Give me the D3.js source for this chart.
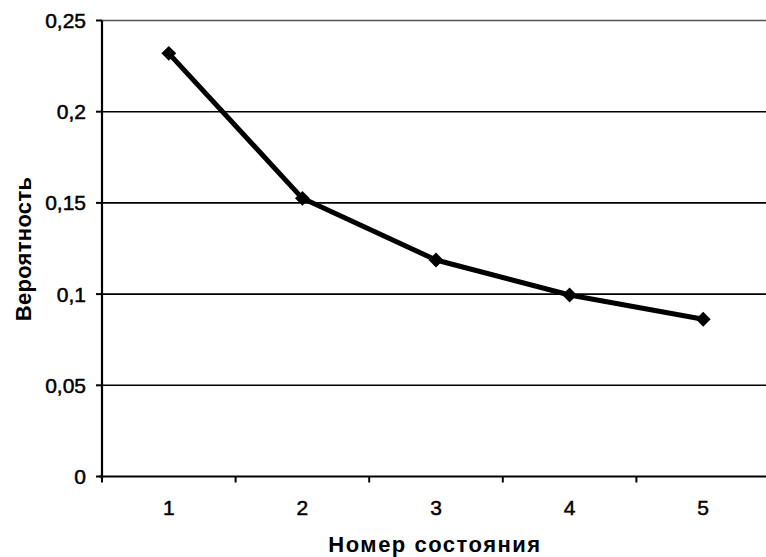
<!DOCTYPE html>
<html>
<head>
<meta charset="utf-8">
<script src="https://cdn.jsdelivr.net/npm/d3@7"></script>
<style>
  body { margin: 0; background: #fff; }
  text { font-family: "Liberation Sans", Arial, sans-serif; fill: #000; }
</style>
</head>
<body>
<div id="chart"></div>
<script>
const states = ["1", "2", "3", "4", "5"];
const probs = [0.232, 0.1525, 0.1187, 0.0995, 0.0862];
const yTicks = [0, 0.05, 0.1, 0.15, 0.2, 0.25];
const yTickLabels = ["0", "0,05", "0,1", "0,15", "0,2", "0,25"];

const W = 766, H = 557;
const margin = {top: 20.5, right: -4, bottom: 80.5, left: 102};
const width = W - margin.left - margin.right,
      height = H - margin.top - margin.bottom;

const svg = d3.select("#chart").append("svg")
    .attr("width", W)
    .attr("height", H);

const g = svg.append("g")
    .attr("transform", `translate(${margin.left}, ${margin.top})`);

let x = d3.scaleBand()
  .domain(states)
  .range([0, width])
  .padding(0);

let y = d3.scaleLinear()
  .domain([0, 0.25])
  .range([height, 0]);

// horizontal gridlines
g.selectAll(".grid")
  .data(yTicks.filter(d => d > 0))
  .join("line")
    .attr("x1", 0)
    .attr("x2", W - margin.left)
    .attr("y1", d => y(d))
    .attr("y2", d => y(d))
    .attr("stroke", d => d === 0.25 ? "#555" : "#000")
    .attr("stroke-width", d => d === 0.25 ? 1.5 : 1.6);

// y axis
g.append("line")
  .attr("x1", 0).attr("x2", 0)
  .attr("y1", y(0.25)).attr("y2", y(0) + 3)
  .attr("stroke", "#000").attr("stroke-width", 2.2);

g.selectAll(".ytick")
  .data(yTicks)
  .join("line")
    .attr("x1", -6).attr("x2", 0)
    .attr("y1", d => y(d)).attr("y2", d => y(d))
    .attr("stroke", "#000").attr("stroke-width", 2);

g.selectAll(".ylab")
  .data(yTicks)
  .join("text")
    .attr("x", -16)
    .attr("y", d => y(d))
    .attr("dy", "0.36em")
    .attr("text-anchor", "end")
    .attr("font-size", 21)
    .attr("stroke", "#000")
    .attr("stroke-width", 0.5)
    .text((d, i) => yTickLabels[i]);

// x axis
g.append("line")
  .attr("x1", -3).attr("x2", W - margin.left)
  .attr("y1", y(0)).attr("y2", y(0))
  .attr("stroke", "#000").attr("stroke-width", 2.2);

g.selectAll(".xtick")
  .data(states)
  .join("line")
    .attr("x1", d => x(d)).attr("x2", d => x(d))
    .attr("y1", y(0)).attr("y2", y(0) + 6)
    .attr("stroke", "#000").attr("stroke-width", 2);

g.selectAll(".xlab")
  .data(states)
  .join("text")
    .attr("x", d => x(d) + x.bandwidth() / 2)
    .attr("y", y(0) + 38)
    .attr("text-anchor", "middle")
    .attr("font-size", 21)
    .attr("stroke", "#000")
    .attr("stroke-width", 0.5)
    .text(d => d);

// series line
g.append("path")
  .datum(probs)
  .attr("fill", "none")
  .attr("stroke", "#000")
  .attr("stroke-width", 5)
  .attr("stroke-linejoin", "round")
  .attr("d", d3.line()
    .x((d, i) => x(states[i]) + x.bandwidth() / 2)
    .y(d => y(d)));

// diamond markers
g.selectAll(".marker")
  .data(probs)
  .join("path")
    .attr("transform", (d, i) => `translate(${x(states[i]) + x.bandwidth() / 2}, ${y(d)})`)
    .attr("d", d3.symbol().type(d3.symbolDiamond2).size(140))
    .attr("fill", "#000");

// axis titles
svg.append("text")
  .attr("x", 435)
  .attr("y", 552)
  .attr("text-anchor", "middle")
  .attr("font-size", 22)
  .attr("font-weight", "bold")
  .attr("letter-spacing", 1.5)
  .text("Номер состояния");

svg.append("text")
  .attr("transform", "translate(31, 249) rotate(-90)")
  .attr("text-anchor", "middle")
  .attr("font-size", 22)
  .attr("font-weight", "bold")
  .attr("letter-spacing", 0.3)
  .text("Вероятность");
</script>
</body>
</html>
